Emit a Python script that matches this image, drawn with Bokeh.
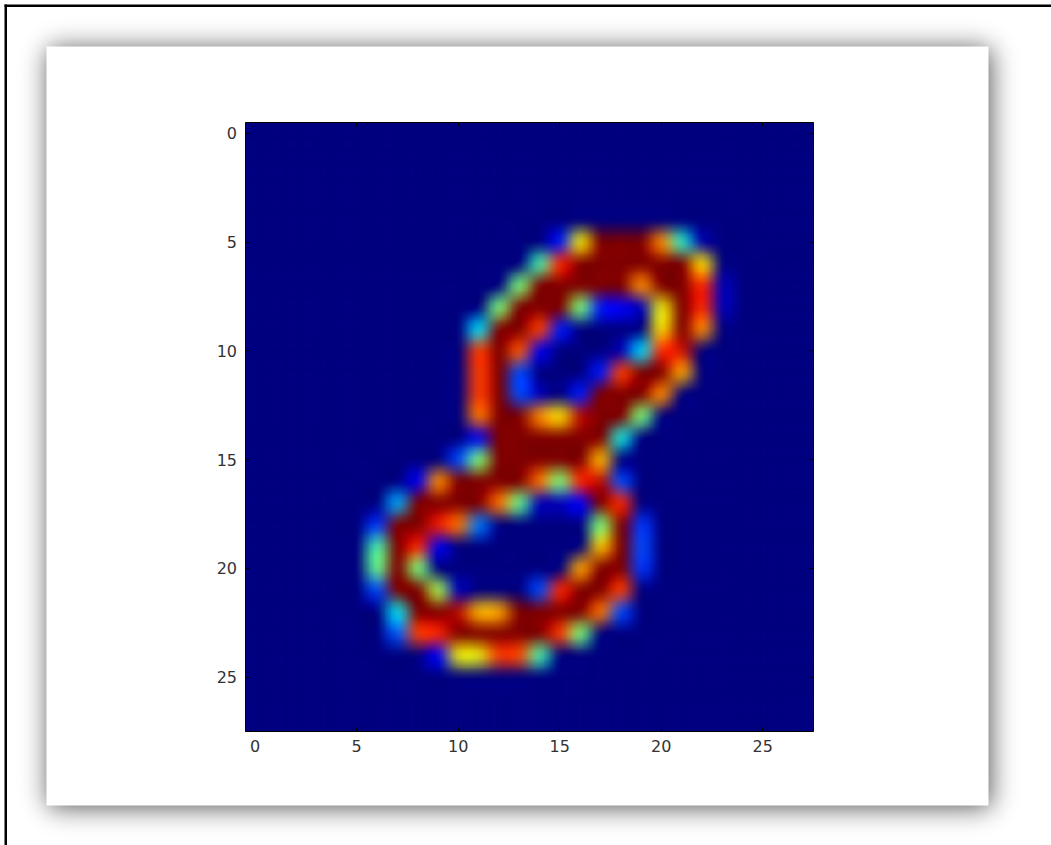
import numpy as np
from math import erf
from bokeh.plotting import figure
from bokeh.models import FixedTicker, LinearAxis, Range1d
from bokeh.embed import file_html
from bokeh.resources import INLINE

# sparse reading of the picture: row -> (first column, values)
row_5 = (15, [.15, .63, 1, 1, 1, .75, .42, .04])
row_6 = (14, [.45, .88, 1, 1, 1, 1, 1, 1, .65])
row_7 = (13, [.5, 1, 1, 1, 1, 1, .75, 1, 1, .88, .05])
row_8 = (12, [.5, 1, 1, 1, .5, .15, .12, .05, .62, 1, .88, .05])
row_9 = (11, [.36, 1, 1, .85, .15, 0, 0, 0, 0, .65, 1, .75])
row_10 = (11, [.85, 1, .82, .1, 0, 0, 0, .05, .35, .88, .93])
row_11 = (11, [.85, 1, .2, 0, 0, 0, .15, .85, 1, 1, .72])
row_12 = (11, [.85, 1, .2, .05, 0, .15, 1, 1, 1, .75])
row_13 = (11, [.78, 1, 1, .75, .65, .95, 1, 1, .5])
row_14 = (11, [.1, 1, 1, 1, 1, 1, 1, .4])
row_15 = (10, [.2, .5, 1, 1, 1, 1, 1, .7])
row_16 = (8, [.1, .75, 1, 1, 1, 1, .78, .5, .88, .95, .2])
row_17 = (7, [.3, 1, 1, 1, 1, .78, .48, .05, .05, .12, 1, .88])
row_18 = (6, [.18, 1, 1, .9, .78, .25, 0, 0, 0, 0, 0, .5, 1, .18])
row_19 = (6, [.45, 1, .88, .1, 0, 0, 0, 0, 0, 0, 0, .68, 1, .2])
row_20 = (6, [.48, 1, .5, 0, 0, 0, 0, 0, 0, 0, .72, 1, 1, .18])
row_21 = (6, [.2, 1, 1, .55, .05, 0, 0, 0, .2, .88, 1, 1, .85])
row_22 = (7, [.38, 1, 1, .95, .7, .72, 1, 1, 1, 1, .78, .2])
row_23 = (7, [.22, .85, .88, 1, 1, 1, 1, 1, .85, .5])
row_24 = (9, [.12, .62, .62, .85, .83, .45])
cell_rows = {5: row_5, 6: row_6, 7: row_7, 8: row_8, 9: row_9, 10: row_10,
             11: row_11, 12: row_12, 13: row_13, 14: row_14, 15: row_15, 16: row_16,
             17: row_17, 18: row_18, 19: row_19, 20: row_20, 21: row_21, 22: row_22,
             23: row_23, 24: row_24}
tick_values = [0, 5, 10, 15, 20, 25]
jet_stops = [(0.0, 0, 0, 128), (0.11, 0, 0, 255), (0.125, 0, 0, 255), (0.35, 0, 219, 255),
             (0.375, 0, 229, 247), (0.5, 124, 255, 121), (0.64, 255, 234, 0),
             (0.75, 255, 140, 0), (0.89, 255, 30, 0), (1.0, 128, 0, 0)]

cells = np.zeros((28, 28))
for r, (c0, vals) in cell_rows.items():
    cells[r, c0:c0 + len(vals)] = vals


def display_interp(a, n=24):
    """Soft cubic display resampling of one colour channel, as imshow does on screen."""
    B, C = 1/3, 1/3

    def kern(t):
        t = np.abs(t)
        near = (12-9*B-6*C)*t**3 + (-18+12*B+6*C)*t**2 + (6-2*B)
        far = (-B-6*C)*t**3 + (6*B+30*C)*t**2 + (-12*B-48*C)*t + (8*B+24*C)
        return np.where(t < 1, near, np.where(t < 2, far, 0))/6
    m = a.shape[0]
    pos = (np.arange(m*n) + .5)/n - .5
    w = kern(pos[:, None] - np.arange(m)[None, :])
    w = w/w.sum(axis=1, keepdims=True)
    return np.clip(w @ a @ w.T, 0, 255)


stops = np.array(jet_stops)
channels = [display_interp(np.interp(cells, stops[:, 0], stops[:, k])) for k in (1, 2, 3)]
n = channels[0].shape[0]
heat = np.zeros((n, n), dtype=np.uint32)
hv = heat.view(dtype=np.uint8).reshape((n, n, 4))
for k in range(3):
    hv[..., k] = channels[k].astype(np.uint8)
hv[..., 3] = 255

W, H = 1051, 845                 # canvas size
PL, PR, PT, PB = 244.5, 813, 122, 731   # plot-area edges on the canvas
CX0, CY0, CX1, CY1 = 46, 46, 988, 805   # card edges on the canvas
sx, sy = (PR-PL)/28, (PB-PT)/28

p = figure(width=W, height=H, min_border=0, x_axis_location=None, y_axis_location=None,
           x_range=Range1d(-.5-PL/sx, 27.5+(W-PR)/sx), y_range=Range1d(27.5+(H-PB)/sy, -.5-PT/sy),
           output_backend="svg", toolbar_location=None, background_fill_color="white",
           border_fill_color="white", outline_line_color=None)
p.grid.visible = False
p.extra_x_ranges["px"] = Range1d(0, W)
p.extra_y_ranges["px"] = Range1d(H, 0)

# blurred card shadow (canvas pixels)
sig = 13.0
def edge(v, a, b):
    return np.array([.5*(erf((x-a)/(sig*2**.5)) - erf((x-b)/(sig*2**.5))) for x in v])
sxs = np.arange(W)+.5
sys = np.arange(H)+.5
shadow_a = np.outer(edge(sys, CY0+2, CY1+2), edge(sxs, CX0+2, CX1+2))*0.68
rgba = np.zeros((H, W), dtype=np.uint32)
v = rgba.view(dtype=np.uint8).reshape((H, W, 4))
v[..., 3] = (shadow_a*255).astype(np.uint8)
p.image_rgba(image=[rgba], x=0, y=0, dw=W, dh=H, x_range_name="px", y_range_name="px")
p.quad(left=[CX0, 4, 4], right=[CX1, W, 6.5], top=[CY0, 4, 4], bottom=[CY1, 6.5, H],
       fill_color=["white", "black", "black"], line_color=None, x_range_name="px", y_range_name="px")

p.image_rgba(image=[heat], x=-.5, y=-.5, dw=28, dh=28)

ticker = FixedTicker(ticks=tick_values)
for side, loc in (("below", 27.5), ("left", -.5), ("above", -.5), ("right", 27.5)):
    labelled = side in ("below", "left")
    ax = LinearAxis(ticker=ticker, major_tick_in=4, major_tick_out=0, minor_tick_line_color=None,
                    axis_line_color="black", major_tick_line_color="black",
                    major_label_text_font="DejaVu Sans", major_label_text_font_size="16px",
                    major_label_text_color="#333333" if labelled else None,
                    major_label_standoff=8, fixed_location=loc, bounds=(-.5, 27.5))
    p.add_layout(ax, side)

open("out.html", "w").write(file_html(p, INLINE))
